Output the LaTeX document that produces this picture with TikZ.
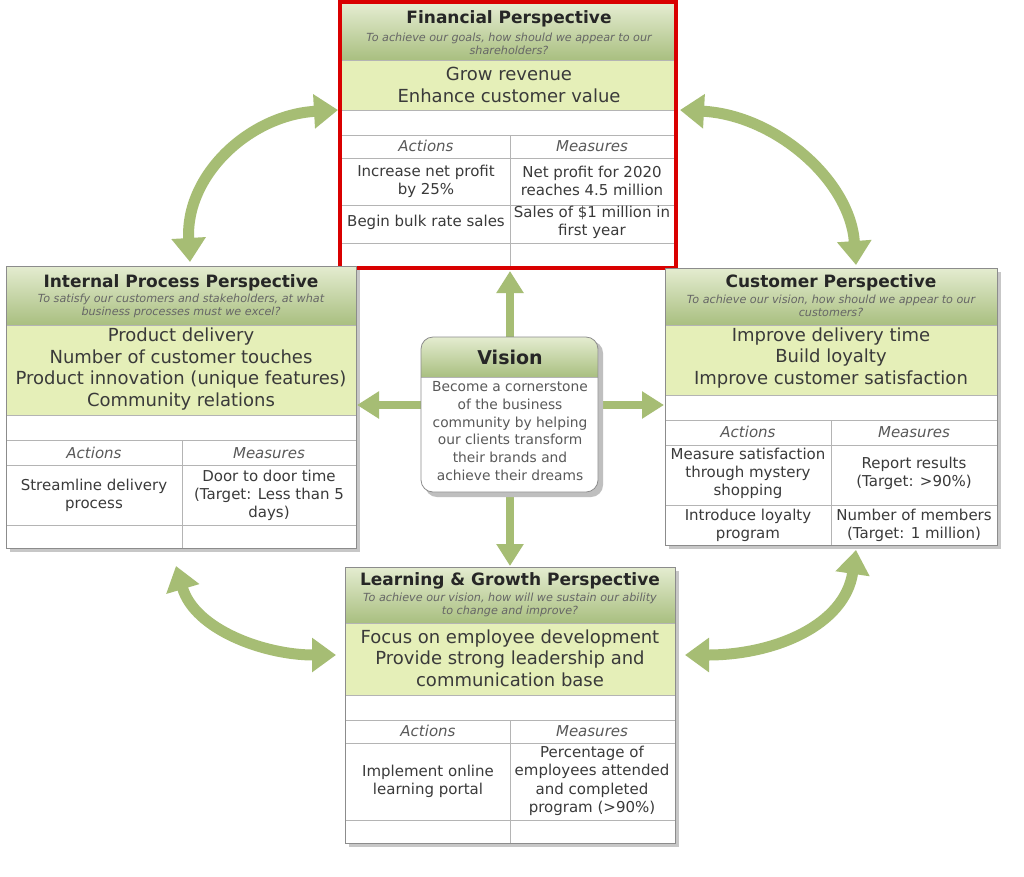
\documentclass[tikz,border=0pt]{standalone}
\usepackage{fontspec}
\setmainfont{DejaVu Sans}
\usetikzlibrary{arrows.meta}
\definecolor{hdrtop}{HTML}{E4ECD0}
\definecolor{hdrbot}{HTML}{A9BF80}
\definecolor{grnfill}{HTML}{E5EFB8}
\definecolor{arrg}{HTML}{A6BD74}
\definecolor{gridc}{HTML}{B4B4B4}
\definecolor{txt}{HTML}{3A3A3A}
\newcommand\pbox[7]{%
 \fill[black!22] ({#1+4},{-#3-4}) rectangle ({#2+4},{-#6-4});
 \shade[top color=hdrtop,bottom color=hdrbot] (#1,-#3) rectangle (#2,-#4);
 \fill[grnfill] (#1,-#4) rectangle (#2,-#5);
 \fill[white] (#1,-#5) rectangle (#2,-#6);
 \draw[gridc,line width=1pt] (#1,-#4) -- (#2,-#4) (#1,-#5) -- (#2,-#5);
 \coordinate (#7-nw) at (#1,-#3);
 \coordinate (#7-se) at (#2,-#6);
}
\tikzset{
 ttl/.style={font=\fontsize{17}{20}\selectfont\bfseries,text=black!85},
 sub/.style={font=\fontsize{11.2}{13}\selectfont\itshape,text=black!60,align=center},
 goal/.style={font=\fontsize{18}{21.5}\selectfont,text=txt,align=center},
 hd/.style={font=\fontsize{15}{17}\selectfont\itshape,text=black!65},
 cell/.style={font=\fontsize{15}{18}\selectfont,text=txt,align=center},
 grid/.style={gridc,line width=1pt},
 bord/.style={draw=black!45,line width=0.8pt},
 va/.style={arrg,line width=8pt,-{Triangle[length=22pt,width=26pt]}},
 ca/.style={arrg,line width=11pt,{Triangle[length=24pt,width=33pt]}-{Triangle[length=24pt,width=33pt]}},
}
\begin{document}
\begin{tikzpicture}[x=1pt,y=1pt]
\useasboundingbox[fill=white] (0,0) rectangle (1024,-876);
% curved arrows
\coordinate (c1a) at (190,-262); \coordinate (c1b) at (338,-110);
\coordinate (c2a) at (680,-110); \coordinate (c2b) at (856,-265);
\coordinate (c3a) at (176,-566); \coordinate (c3b) at (336,-655);
\coordinate (c4a) at (685,-655); \coordinate (c4b) at (856,-550);
\draw[ca] (c1a) .. controls (185,-175) and (250,-115) .. (c1b);
\draw[ca] (c2a) .. controls (775,-115) and (850,-180) .. (c2b);
\draw[ca] (c3a) .. controls (195,-630) and (265,-655) .. (c3b);
\draw[ca] (c4a) .. controls (775,-655) and (845,-625) .. (c4b);
% Financial
\pbox{342}{674}{4}{60}{110}{266}{fin}
\draw[grid] (342,-135)--(674,-135) (342,-158)--(674,-158) (342,-205)--(674,-205) (342,-243)--(674,-243) (510,-135)--(510,-266);
\draw[red!85!black,line width=4pt] (340,-2) rectangle (676,-268);
\node[ttl] (ft) at (509,-19) {Financial Perspective};
\node[sub] (fs) at (509,-44) {To achieve our goals, how should we appear to our\\shareholders?};
\node[goal] (fg) at (509,-85) {Grow revenue\\Enhance customer value};
\node[hd] (fa) at (426,-146) {Actions};
\node[hd] (fm) at (592,-146) {Measures};
\node[cell] (f1) at (426,-181) {Increase net profit\\by 25\%};
\node[cell] (f2) at (592,-181) {Net profit for 2020\\reaches 4.5 million};
\node[cell] (f3) at (426,-222) {Begin bulk rate sales};
\node[cell] (f4) at (592,-222) {Sales of \$1 million in\\first year};
% Internal
\pbox{6}{356}{266}{325}{415}{548}{int}
\draw[grid] (6,-440)--(356,-440) (6,-465)--(356,-465) (6,-525)--(356,-525) (182,-440)--(182,-548);
\draw[bord] (int-nw) rectangle (int-se);
\node[ttl] (it) at (181,-283) {Internal Process Perspective};
\node[sub] (is) at (181,-306) {To satisfy our customers and stakeholders, at what\\business processes must we excel?};
\node[goal] (ig) at (181,-369) {Product delivery\\Number of customer touches\\Product innovation (unique features)\\Community relations};
\node[hd] (ia) at (94,-453) {Actions};
\node[hd] (im) at (269,-453) {Measures};
\node[cell] (i1) at (94,-495) {Streamline delivery\\process};
\node[cell] (i2) at (269,-495) {Door to door time\\(Target: Less than 5\\days)};
% Customer
\pbox{665}{997}{268}{325}{395}{545}{cus}
\draw[grid] (665,-420)--(997,-420) (665,-445)--(997,-445) (665,-505)--(997,-505) (831,-420)--(831,-545);
\draw[bord] (cus-nw) rectangle (cus-se);
\node[ttl] (ct) at (831,-283) {Customer Perspective};
\node[sub] (cs) at (831,-306) {To achieve our vision, how should we appear to our\\customers?};
\node[goal] (cg) at (831,-358) {Improve delivery time\\Build loyalty\\Improve customer satisfaction};
\node[hd] (ca) at (748,-432) {Actions};
\node[hd] (cm) at (914,-432) {Measures};
\node[cell] (c1) at (748,-473) {Measure satisfaction\\through mystery\\shopping};
\node[cell] (c2) at (914,-473) {Report results\\(Target: >90\%)};
\node[cell] (c3) at (748,-525) {Introduce loyalty\\program};
\node[cell] (c4) at (914,-525) {Number of members\\(Target: 1 million)};
% Learning
\pbox{345}{675}{567}{623}{695}{843}{lea}
\draw[grid] (345,-720)--(675,-720) (345,-743)--(675,-743) (345,-820)--(675,-820) (510,-720)--(510,-843);
\draw[bord] (lea-nw) rectangle (lea-se);
\node[ttl] (lt) at (510,-581) {Learning \& Growth Perspective};
\node[sub] (ls) at (510,-605) {To achieve our vision, how will we sustain our ability\\to change and improve?};
\node[goal] (lg) at (510,-658) {Focus on employee development\\Provide strong leadership and\\communication base};
\node[hd] (la) at (428,-731) {Actions};
\node[hd] (lm) at (592,-731) {Measures};
\node[cell] (l1) at (428,-781) {Implement online\\learning portal};
\node[cell,font=\fontsize{15}{18.5}\selectfont] (l2) at (592,-781) {Percentage of\\employees attended\\and completed\\program (>90\%)};
% Vision
\coordinate (vtop) at (510,-337); \coordinate (vbot) at (510,-492);
\coordinate (vl) at (421,-405); \coordinate (vr) at (598,-405);
\coordinate (fb) at (510,-271); \coordinate (lb) at (510,-566);
\coordinate (ir) at (357,-405); \coordinate (cl) at (664,-405);
\draw[va] (vtop) -- (fb);
\draw[va] (vbot) -- (lb);
\draw[va] (vl) -- (ir);
\draw[va] (vr) -- (cl);
\fill[black!25,rounded corners=12pt] (425,-341) rectangle (603,-497);
\fill[white,rounded corners=12pt] (421,-337) rectangle (598,-492);
\begin{scope}
\clip[rounded corners=12pt] (421,-337) rectangle (598,-492);
\shade[top color=hdrtop,bottom color=hdrbot] (421,-337) rectangle (598,-377);
\draw[gridc,line width=1pt] (421,-377) -- (598,-377);
\end{scope}
\draw[bord,rounded corners=12pt] (421,-337) rectangle (598,-492);
\node[ttl,font=\fontsize{19}{21}\selectfont\bfseries] (vt) at (510,-357) {Vision};
\node[cell,font=\fontsize{13.8}{17.7}\selectfont,text=black!65] (vx) at (510,-431) {Become a cornerstone\\of the business\\community by helping\\our clients transform\\their brands and\\achieve their dreams};
\end{tikzpicture}
\end{document}
